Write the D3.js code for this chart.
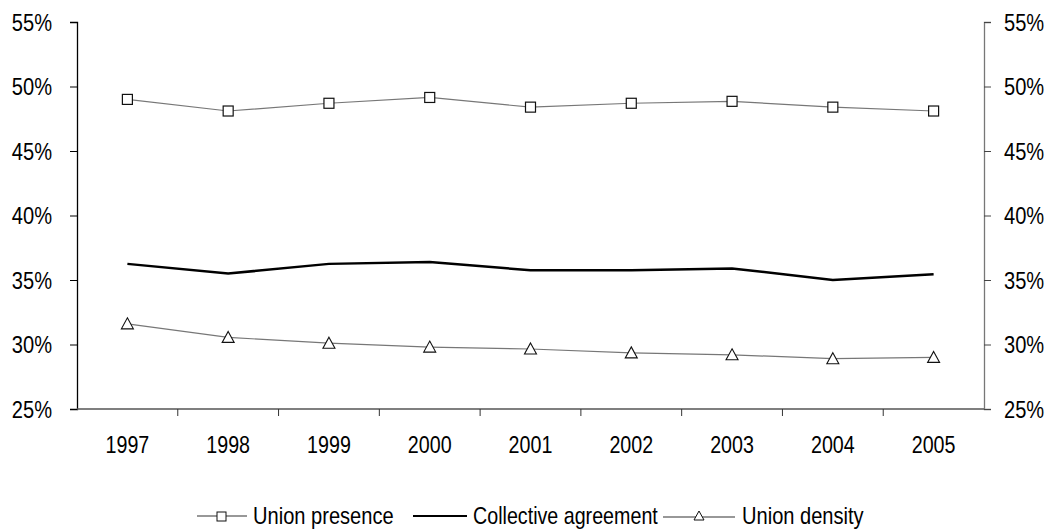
<!DOCTYPE html>
<html><head><meta charset="utf-8">
<script src="https://cdn.jsdelivr.net/npm/d3@7"></script>
<style>
body{margin:0;background:#fff;}
text{font-family:"Liberation Sans",Arial,sans-serif;fill:#000;}
</style></head>
<body><svg id="c" width="1050" height="531"></svg>
<script>
const years = ["1997","1998","1999","2000","2001","2002","2003","2004","2005"];
const unionPresence = [49.0, 48.1, 48.7, 49.15, 48.4, 48.7, 48.85, 48.4, 48.1];
const collectiveAgreement = [36.25, 35.5, 36.25, 36.4, 35.75, 35.75, 35.9, 35.0, 35.45];
const unionDensity = [31.6, 30.55, 30.1, 29.8, 29.65, 29.35, 29.2, 28.9, 29.0];
const yTicks = [25, 30, 35, 40, 45, 50, 55];
const legendLabels = ["Union presence", "Collective agreement", "Union density"];

const svg = d3.select("#c");
const L = 77, R = 984, T = 22, B = 409;
const x = d3.scaleBand().domain(years).range([L, R]);
const y = d3.scaleLinear().domain([25, 55]).range([B, T]);
const sx = 0.82;

function txt(g, px, py, s, anchor, fs) {
  return g.append("text")
    .attr("transform", `translate(${px},${py}) scale(${sx},1)`)
    .attr("text-anchor", anchor || "start")
    .style("font-size", (fs || 24) + "px").text(s);
}

// left axis
const la = svg.append("g").attr("transform", `translate(${L},0)`)
  .call(d3.axisLeft(y).tickValues(yTicks).tickFormat("").tickSize(7));
la.select(".domain").attr("stroke", "#000").attr("stroke-width", 1.3);
la.selectAll(".tick line").attr("stroke", "#000");
yTicks.forEach(v => txt(svg, 52, y(v) + 8.5, v + "%", "end", 24.5));

// right axis
const ra = svg.append("g").attr("transform", `translate(${R},0)`)
  .call(d3.axisRight(y).tickValues(yTicks).tickFormat("").tickSize(7));
ra.select(".domain").attr("stroke", "#777").attr("stroke-width", 1.3);
ra.selectAll(".tick line").attr("stroke", "#444");
yTicks.forEach(v => txt(svg, 1004, y(v) + 8.5, v + "%", "start", 24.5));

// bottom axis: ticks at band boundaries
const xa = svg.append("g").attr("transform", `translate(0,${B})`);
xa.append("line").attr("x1", L).attr("x2", R).attr("stroke", "#555").attr("stroke-width", 1.3);
xa.selectAll("line.t").data(years.slice(1)).join("line").attr("class", "t")
  .attr("x1", d => x(d)).attr("x2", d => x(d)).attr("y1", 0).attr("y2", 7).attr("stroke", "#333");
years.forEach(d => txt(svg, x(d) + x.bandwidth() / 2, B + 44, d, "middle", 24));

const cx = (d, i) => x(years[i]) + x.bandwidth() / 2;
const line = d3.line().x((d, i) => cx(d, i)).y(d => y(d));

// union presence
svg.append("path").datum(unionPresence).attr("d", line).attr("fill", "none").attr("stroke", "#777").attr("stroke-width", 1.2);
svg.selectAll("rect.up").data(unionPresence).join("rect").attr("class", "up")
  .attr("x", (d, i) => cx(d, i) - 5).attr("y", d => y(d) - 5).attr("width", 10).attr("height", 10)
  .attr("fill", "#fff").attr("stroke", "#111").attr("stroke-width", 1.2);

// collective agreement
svg.append("path").datum(collectiveAgreement).attr("d", line).attr("fill", "none").attr("stroke", "#000").attr("stroke-width", 2.5);

// union density
const tri = (px, py) => `M${px},${py - 6}L${px + 6},${py + 5}L${px - 6},${py + 5}Z`;
svg.append("path").datum(unionDensity).attr("d", line).attr("fill", "none").attr("stroke", "#777").attr("stroke-width", 1.2);
svg.selectAll("path.ud").data(unionDensity).join("path").attr("class", "ud")
  .attr("d", (d, i) => tri(cx(d, i), y(d))).attr("fill", "#fff").attr("stroke", "#111").attr("stroke-width", 1.1);

// legend
const ly = 516;
const lg = svg.append("g");
lg.append("line").attr("x1", 197).attr("x2", 247).attr("y1", ly).attr("y2", ly).attr("stroke", "#333").attr("stroke-width", 1.2);
lg.append("rect").attr("x", 217).attr("y", ly - 4).attr("width", 9).attr("height", 9).attr("fill", "#fff").attr("stroke", "#111");
txt(lg, 253, ly + 8, legendLabels[0], "start", 24.5);
lg.append("line").attr("x1", 413).attr("x2", 467).attr("y1", ly).attr("y2", ly).attr("stroke", "#000").attr("stroke-width", 2.2);
txt(lg, 473, ly + 8, legendLabels[1], "start", 24);
lg.append("line").attr("x1", 663).attr("x2", 735).attr("y1", ly + 1).attr("y2", ly + 1).attr("stroke", "#333").attr("stroke-width", 1.2);
lg.append("path").attr("d", `M699,${ly - 5}L704,${ly + 4}L694,${ly + 4}Z`).attr("fill", "#fff").attr("stroke", "#111");
txt(lg, 742, ly + 8, legendLabels[2], "start", 24.5);
</script></body></html>
